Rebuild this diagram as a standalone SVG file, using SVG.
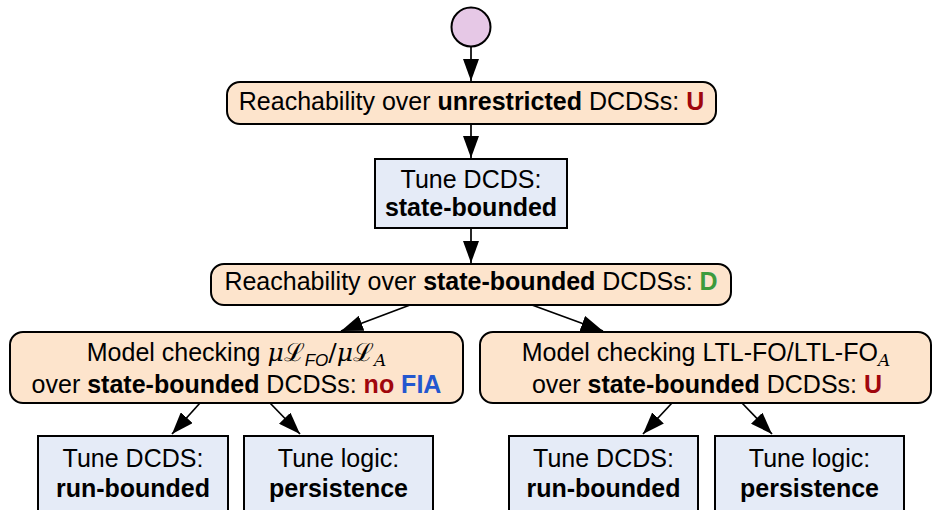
<svg xmlns="http://www.w3.org/2000/svg" width="933" height="510" viewBox="0 0 933 510">
  <style>
    .t { font-family: "Liberation Sans", Arial, sans-serif; font-size: 25px; fill: #000; text-anchor: middle; }
    .b { font-weight: bold; }
    .m { font-family: "DejaVu Serif", "Liberation Serif", serif; font-style: italic; }
    .cal { font-family: "DejaVu Serif", "Liberation Serif", serif; font-style: normal; }
    .si { font-family: "Liberation Sans", Arial, sans-serif; font-style: italic; font-size: 17px; }
    .sm { font-family: "DejaVu Serif", "Liberation Serif", serif; font-style: italic; font-size: 17px; }
    .red { fill: #a0060d; font-weight: bold; }
    .grn { fill: #3c9b3c; font-weight: bold; }
    .blu { fill: #2457cf; font-weight: bold; }
    .prob { fill: #fde4cc; stroke: #000; stroke-width: 2; }
    .tune { fill: #e5ebf7; stroke: #000; stroke-width: 2; }
    .edge { stroke: #000; stroke-width: 1.7; fill: none; marker-end: url(#arrow); }
  </style>
  <defs>
    <marker id="arrow" markerUnits="userSpaceOnUse" markerWidth="22" markerHeight="16" refX="22" refY="8" orient="auto">
      <path d="M0,0 L22,8 L0,16 Z" fill="#000"/>
    </marker>
  </defs>

  <rect width="933" height="510" fill="#fff"/>

  <g id="edges">
    <line class="edge" x1="471" y1="47" x2="471" y2="81"/>
    <line class="edge" x1="471" y1="124" x2="471" y2="158"/>
    <line class="edge" x1="471" y1="228" x2="471" y2="263"/>
    <line class="edge" x1="410" y1="305" x2="341" y2="331"/>
    <line class="edge" x1="532" y1="305" x2="603" y2="331"/>
    <line class="edge" x1="200" y1="403" x2="172" y2="434"/>
    <line class="edge" x1="270" y1="403" x2="300" y2="434"/>
    <line class="edge" x1="672" y1="403" x2="643" y2="434"/>
    <line class="edge" x1="742" y1="403" x2="772" y2="434"/>
  </g>

  <g id="start">
    <circle cx="471" cy="27" r="19.5" fill="#e6c8e6" stroke="#000" stroke-width="2"/>
  </g>

  <g id="reach-unrestricted">
    <rect class="prob" x="227" y="82" width="489" height="42" rx="13"/>
    <text class="t" x="471.5" y="110">Reachability over <tspan class="b">unrestricted</tspan> DCDSs: <tspan class="red">U</tspan></text>
  </g>

  <g id="tune-state-bounded">
    <rect class="tune" x="375" y="159" width="192" height="69"/>
    <text class="t" x="471" y="188">Tune DCDS:</text>
    <text class="t b" x="471" y="216">state-bounded</text>
  </g>

  <g id="reach-state-bounded">
    <rect class="prob" x="211" y="264" width="520" height="41" rx="13"/>
    <text class="t" x="471" y="290">Reachability over <tspan class="b">state-bounded</tspan> DCDSs: <tspan class="grn">D</tspan></text>
  </g>

  <g id="mc-mu">
    <rect class="prob" x="10" y="332" width="453" height="71" rx="13"/>
    <text class="t" x="236.5" y="361">Model checking <tspan class="m">μ</tspan><tspan class="cal">ℒ</tspan><tspan class="si" dy="5">FO</tspan><tspan class="cal" dy="-5">/</tspan><tspan class="m">μ</tspan><tspan class="cal">ℒ</tspan><tspan class="sm" dy="5">A</tspan></text>
    <text class="t" x="236.5" y="393">over <tspan class="b">state-bounded</tspan> DCDSs: <tspan class="red">no</tspan> <tspan class="blu">FIA</tspan></text>
  </g>

  <g id="mc-ltl">
    <rect class="prob" x="480" y="332" width="451" height="71" rx="13"/>
    <text class="t" x="706" y="361">Model checking LTL-FO/LTL-FO<tspan class="sm" dy="5">A</tspan></text>
    <text class="t" x="707" y="393">over <tspan class="b">state-bounded</tspan> DCDSs: <tspan class="red">U</tspan></text>
  </g>

  <g id="mu-run-bounded">
    <rect class="tune" x="38" y="436" width="190" height="90"/>
    <text class="t" x="133" y="467">Tune DCDS:</text>
    <text class="t b" x="133" y="497">run-bounded</text>
  </g>

  <g id="mu-persistence">
    <rect class="tune" x="244" y="436" width="189" height="90"/>
    <text class="t" x="338.5" y="467">Tune logic:</text>
    <text class="t b" x="338.5" y="497">persistence</text>
  </g>

  <g id="ltl-run-bounded">
    <rect class="tune" x="509" y="436" width="189" height="90"/>
    <text class="t" x="603.5" y="467">Tune DCDS:</text>
    <text class="t b" x="603.5" y="497">run-bounded</text>
  </g>

  <g id="ltl-persistence">
    <rect class="tune" x="715" y="436" width="189" height="90"/>
    <text class="t" x="809.5" y="467">Tune logic:</text>
    <text class="t b" x="809.5" y="497">persistence</text>
  </g>
</svg>
